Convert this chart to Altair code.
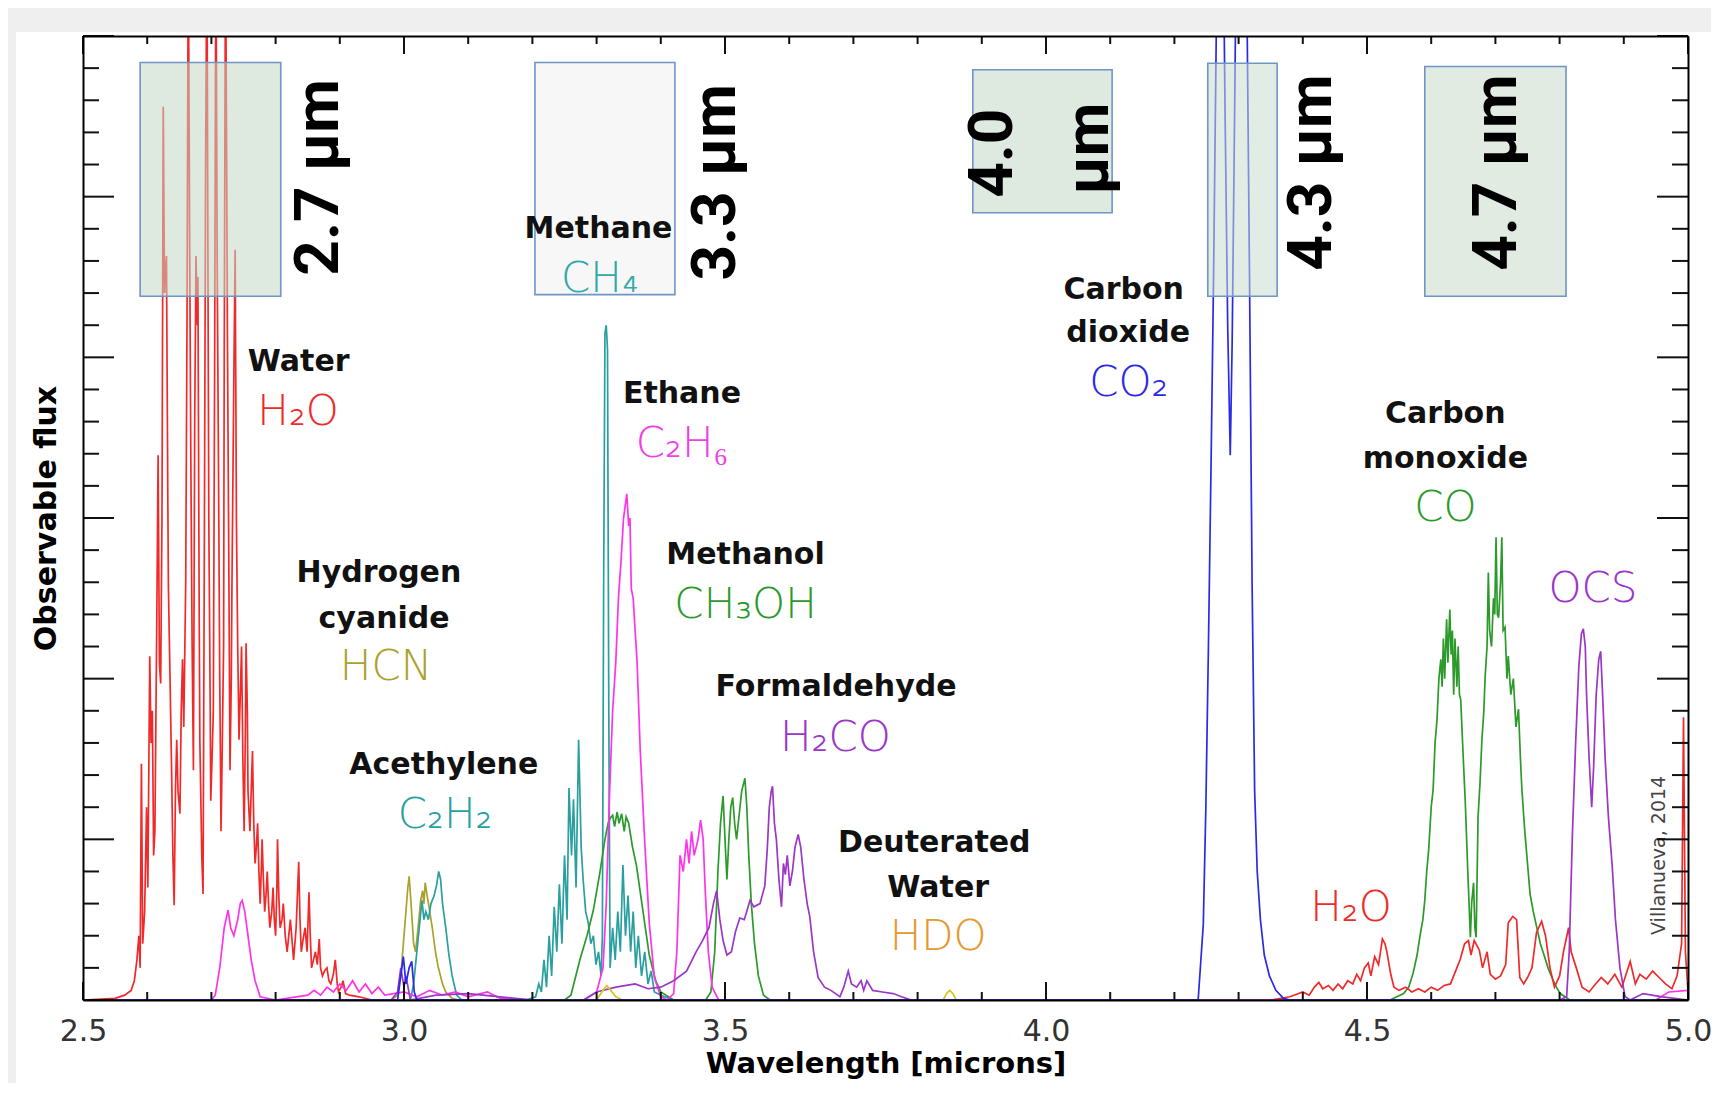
import altair as alt
import pandas as pd

W, H = 1605, 964

# ---------------- spectra: wavelength [micron] / observable flux ----------------
H2O_A_X = [2.500, 2.550, 2.565, 2.575, 2.580, 2.584, 2.587, 2.589, 2.591, 2.593, 2.596, 2.599, 2.601, 2.604,
           2.606, 2.608, 2.610, 2.612, 2.615, 2.617, 2.619, 2.621, 2.623, 2.625, 2.627, 2.628, 2.630, 2.632,
           2.633, 2.636, 2.638, 2.640, 2.642, 2.644, 2.646, 2.648, 2.651, 2.653, 2.655, 2.657, 2.660, 2.662,
           2.664, 2.666, 2.668, 2.670, 2.672, 2.674, 2.676, 2.678, 2.679, 2.681, 2.682, 2.685, 2.687, 2.689,
           2.691, 2.693, 2.695, 2.696, 2.698, 2.699, 2.701, 2.703, 2.705, 2.707, 2.709, 2.711, 2.713, 2.715,
           2.717, 2.719, 2.720, 2.722, 2.724, 2.725, 2.727, 2.729, 2.731, 2.732, 2.735, 2.737, 2.739, 2.741,
           2.743, 2.745, 2.747, 2.749, 2.751, 2.753, 2.754, 2.756, 2.757, 2.760, 2.762, 2.764, 2.766, 2.768,
           2.770, 2.772, 2.774, 2.776, 2.778, 2.779, 2.781, 2.783, 2.785, 2.787, 2.789, 2.791, 2.794, 2.796,
           2.798, 2.800, 2.802, 2.803, 2.805, 2.807, 2.810, 2.812, 2.815, 2.818, 2.820, 2.823, 2.826, 2.828,
           2.832, 2.836, 2.838, 2.840, 2.843, 2.846, 2.849, 2.852, 2.854, 2.856, 2.859, 2.862, 2.865, 2.868,
           2.870, 2.873, 2.876, 2.880, 2.883, 2.886, 2.890, 2.893, 2.896, 2.898, 2.902, 2.905, 2.909, 2.915,
           2.930, 2.950, 4.000]
H2O_A_Y = [0.00, 0.01, 0.03, 0.06, 0.12, 0.25, 0.40, 0.20, 1.47, 0.35, 0.55, 1.20, 0.70, 2.14,
           1.60, 1.80, 0.90, 1.05, 2.40, 3.39, 2.10, 1.97, 3.00, 5.56, 4.40, 4.50, 4.63, 3.20,
           2.58, 1.90, 1.43, 0.90, 0.59, 1.30, 1.62, 1.30, 1.16, 1.80, 2.12, 1.70, 2.60, 4.20,
           6.60, 4.80, 3.35, 2.20, 1.43, 3.60, 4.63, 4.20, 4.50, 2.40, 1.62, 0.90, 0.66, 2.80,
           5.20, 6.60, 4.10, 2.97, 1.90, 1.24, 1.50, 1.80, 3.90, 6.60, 4.60, 3.35, 2.00, 1.05,
           1.60, 2.20, 4.00, 6.60, 5.00, 4.12, 2.80, 1.43, 2.00, 2.58, 3.90, 4.67, 2.97, 2.20,
           1.62, 1.90, 2.20, 1.50, 1.05, 1.70, 2.22, 1.80, 1.30, 1.05, 1.30, 1.55, 1.10, 0.85,
           0.95, 1.10, 0.80, 0.60, 0.85, 1.00, 0.75, 0.55, 0.65, 0.80, 0.60, 0.45, 0.55, 0.70,
           0.50, 0.40, 0.70, 1.00, 0.65, 0.45, 0.50, 0.60, 0.40, 0.30, 0.38, 0.50, 0.35, 0.25,
           0.45, 0.86, 0.50, 0.30, 0.38, 0.45, 0.30, 0.67, 0.40, 0.20, 0.25, 0.30, 0.22, 0.38,
           0.20, 0.15, 0.18, 0.20, 0.12, 0.10, 0.16, 0.25, 0.10, 0.05, 0.08, 0.12, 0.04, 0.03,
           0.02, 0.00, 0.00]

H2O_B_X = [4.000, 4.350, 4.380, 4.400, 4.410, 4.418, 4.425, 4.431, 4.440, 4.447, 4.455, 4.462, 4.470,
           4.478, 4.484, 4.490, 4.496, 4.502, 4.506, 4.512, 4.518, 4.524, 4.528, 4.531, 4.537, 4.542,
           4.550, 4.560, 4.570, 4.580, 4.590, 4.600, 4.610, 4.620, 4.630, 4.640, 4.645, 4.652, 4.658,
           4.662, 4.667, 4.675, 4.680, 4.687, 4.692, 4.700, 4.708, 4.716, 4.720, 4.727, 4.733, 4.738,
           4.744, 4.750, 4.757, 4.764, 4.772, 4.778, 4.785, 4.792, 4.800, 4.806, 4.814, 4.818, 4.826,
           4.835, 4.846, 4.856, 4.865, 4.875, 4.886, 4.897, 4.910, 4.918, 4.925, 4.935, 4.945, 4.955,
           4.965, 4.975, 4.983, 4.990, 4.993, 4.996, 5.000]
H2O_B_Y = [0.00, 0.00, 0.02, 0.05, 0.03, 0.08, 0.11, 0.07, 0.09, 0.06, 0.10, 0.07, 0.12,
           0.10, 0.16, 0.12, 0.20, 0.23, 0.15, 0.27, 0.22, 0.38, 0.35, 0.30, 0.16, 0.08,
           0.06, 0.08, 0.05, 0.07, 0.05, 0.08, 0.06, 0.09, 0.10, 0.20, 0.25, 0.35, 0.37,
           0.28, 0.37, 0.31, 0.20, 0.30, 0.16, 0.13, 0.15, 0.22, 0.48, 0.52, 0.50, 0.14,
           0.10, 0.14, 0.20, 0.42, 0.49, 0.40, 0.20, 0.08, 0.15, 0.30, 0.45, 0.30, 0.20,
           0.08, 0.05, 0.10, 0.14, 0.10, 0.16, 0.08, 0.24, 0.10, 0.16, 0.13, 0.18, 0.14,
           0.10, 0.07, 0.15, 0.35, 1.76, 0.30, 0.05]

HCN_X = [2.500, 2.980, 2.990, 2.996, 3.002, 3.006, 3.008, 3.011, 3.015, 3.018, 3.022, 3.026, 3.029,
         3.031, 3.033, 3.036, 3.039, 3.044, 3.049, 3.053, 3.060, 3.065, 3.075, 3.085, 5.000]
HCN_Y = [0.00, 0.00, 0.03, 0.20, 0.50, 0.70, 0.77, 0.60, 0.35, 0.30, 0.45, 0.62, 0.68,
         0.60, 0.73, 0.65, 0.58, 0.45, 0.30, 0.21, 0.10, 0.05, 0.01, 0.00, 0.00]

C2H2_X = [2.500, 3.010, 3.015, 3.020, 3.025, 3.028, 3.031, 3.034, 3.038, 3.042, 3.047, 3.051, 3.054,
          3.057, 3.060, 3.065, 3.070, 3.075, 3.082, 3.090, 5.000]
C2H2_Y = [0.00, 0.00, 0.10, 0.30, 0.50, 0.62, 0.50, 0.55, 0.50, 0.60, 0.65, 0.72, 0.80,
          0.75, 0.60, 0.45, 0.28, 0.15, 0.03, 0.00, 0.00]

CH4_X = [2.500, 3.190, 3.205, 3.210, 3.214, 3.218, 3.222, 3.226, 3.230, 3.234, 3.238, 3.242, 3.246,
         3.250, 3.254, 3.257, 3.261, 3.264, 3.268, 3.272, 3.276, 3.279, 3.283, 3.287, 3.291, 3.295,
         3.299, 3.303, 3.307, 3.309, 3.311, 3.313, 3.315, 3.317, 3.319, 3.321, 3.325, 3.329, 3.333,
         3.337, 3.341, 3.345, 3.349, 3.353, 3.357, 3.361, 3.365, 3.370, 3.375, 3.380, 3.385, 3.390,
         3.400, 3.420, 5.000]
CH4_Y = [0.00, 0.00, 0.02, 0.10, 0.05, 0.25, 0.08, 0.40, 0.15, 0.58, 0.30, 0.72, 0.35,
         0.90, 0.50, 1.32, 0.90, 1.25, 0.70, 1.62, 0.95, 0.75, 0.55, 0.48, 0.35, 0.40,
         0.22, 0.30, 0.15, 0.40, 2.60, 4.15, 4.20, 4.05, 1.80, 0.20, 0.45, 0.25, 0.55,
         0.30, 0.84, 0.40, 0.65, 0.30, 0.55, 0.20, 0.40, 0.15, 0.30, 0.10, 0.18, 0.05,
         0.03, 0.00, 0.00]

CH3OH_X = [2.500, 3.250, 3.260, 3.274, 3.285, 3.295, 3.305, 3.313, 3.318, 3.321, 3.325, 3.328, 3.332,
           3.335, 3.339, 3.343, 3.346, 3.350, 3.356, 3.362, 3.372, 3.382, 3.392, 3.400, 3.420, 3.470,
           3.478, 3.484, 3.489, 3.493, 3.497, 3.500, 3.503, 3.506, 3.509, 3.512, 3.515, 3.518, 3.522,
           3.526, 3.531, 3.534, 3.537, 3.541, 3.546, 3.552, 3.560, 3.570, 5.000]
CH3OH_Y = [0.00, 0.00, 0.03, 0.25, 0.40, 0.56, 0.79, 1.00, 1.10, 1.13, 1.15, 1.08, 1.17,
           1.10, 1.16, 1.05, 1.14, 1.10, 0.95, 0.84, 0.56, 0.28, 0.12, 0.05, 0.00, 0.00,
           0.05, 0.30, 0.80, 1.10, 1.27, 1.00, 0.75, 1.00, 1.20, 1.26, 1.10, 1.00, 1.15,
           1.30, 1.38, 1.20, 0.90, 0.60, 0.35, 0.15, 0.03, 0.00, 0.00]

C2H6_X = [2.500, 2.700, 2.706, 2.713, 2.720, 2.726, 2.730, 2.735, 2.741, 2.745, 2.748, 2.752, 2.757,
          2.762, 2.768, 2.776, 2.800, 2.850, 2.860, 2.870, 2.880, 2.890, 2.900, 2.910, 2.920, 2.930,
          2.940, 2.950, 2.960, 2.970, 3.000, 3.020, 3.040, 3.060, 3.080, 3.100, 3.130, 3.150, 3.200,
          3.280, 3.300, 3.310, 3.315, 3.320, 3.325, 3.330, 3.334, 3.338, 3.342, 3.345, 3.347, 3.350,
          3.352, 3.354, 3.357, 3.360, 3.363, 3.368, 3.375, 3.382, 3.390, 3.400, 3.410, 3.420, 3.425,
          3.430, 3.435, 3.440, 3.444, 3.448, 3.452, 3.458, 3.462, 3.466, 3.469, 3.474, 3.480, 3.490,
          4.950, 4.970, 5.000]
C2H6_Y = [0.00, 0.00, 0.03, 0.20, 0.45, 0.56, 0.45, 0.40, 0.50, 0.60, 0.62, 0.55, 0.40,
          0.25, 0.12, 0.02, 0.00, 0.03, 0.06, 0.03, 0.08, 0.05, 0.10, 0.06, 0.12, 0.05,
          0.10, 0.04, 0.08, 0.03, 0.05, 0.02, 0.06, 0.03, 0.05, 0.02, 0.05, 0.01, 0.00,
          0.00, 0.05, 0.20, 0.60, 1.27, 1.80, 2.11, 2.50, 2.73, 3.00, 3.09, 3.15, 2.95,
          3.00, 2.56, 2.50, 2.30, 2.11, 1.55, 0.98, 0.48, 0.14, 0.02, 0.00, 0.04, 0.30,
          0.90, 0.80, 1.00, 0.85, 1.05, 0.90, 1.00, 1.12, 1.00, 0.70, 0.30, 0.08, 0.00,
          0.00, 0.05, 0.06]

H2CO_X = [2.500, 2.980, 2.990, 2.995, 3.000, 3.003, 3.010, 3.050, 3.100, 3.150, 3.200, 3.280, 3.300,
          3.330, 3.360, 3.380, 3.400, 3.420, 3.440, 3.455, 3.465, 3.475, 3.482, 3.487, 3.492, 3.497,
          3.503, 3.510, 3.516, 3.523, 3.530, 3.539, 3.545, 3.5545, 3.562, 3.566, 3.569, 3.572, 3.574,
          3.577, 3.580, 3.584, 3.588, 3.591, 3.594, 3.597, 3.601, 3.605, 3.609, 3.614, 3.618, 3.623,
          3.628, 3.632, 3.638, 3.645, 3.655, 3.665, 3.679, 3.685, 3.692, 3.697, 3.705, 3.712, 3.716,
          3.721, 3.730, 3.745, 3.762, 3.775, 3.790, 5.000]
H2CO_Y = [0.00, 0.00, 0.05, 0.20, 0.08, 0.15, 0.00, 0.03, 0.04, 0.02, 0.00, 0.00, 0.05,
          0.08, 0.10, 0.07, 0.08, 0.12, 0.18, 0.30, 0.37, 0.45, 0.60, 0.68, 0.50, 0.37,
          0.28, 0.30, 0.42, 0.51, 0.50, 0.62, 0.58, 0.60, 0.71, 0.95, 1.20, 1.30, 1.33,
          1.10, 1.00, 0.75, 0.58, 0.85, 0.78, 0.90, 0.71, 0.80, 0.95, 1.03, 0.95, 0.75,
          0.60, 0.52, 0.30, 0.14, 0.08, 0.06, 0.02, 0.08, 0.18, 0.10, 0.08, 0.12, 0.06,
          0.12, 0.06, 0.05, 0.04, 0.02, 0.00, 0.00]

HDO_X = [2.500, 3.300, 3.310, 3.316, 3.322, 3.330, 3.340, 3.840, 3.845, 3.850, 3.855, 3.860, 5.000]
HDO_Y = [0.00, 0.00, 0.06, 0.09, 0.06, 0.02, 0.00, 0.00, 0.04, 0.06, 0.04, 0.00, 0.00]

CO_X = [2.500, 4.536, 4.557, 4.565, 4.572, 4.578, 4.583, 4.587, 4.590, 4.593, 4.596, 4.600, 4.603,
        4.606, 4.609, 4.612, 4.615, 4.617, 4.619, 4.621, 4.624, 4.626, 4.629, 4.631, 4.633, 4.635,
        4.637, 4.640, 4.642, 4.644, 4.646, 4.650, 4.653, 4.657, 4.661, 4.663, 4.666, 4.668, 4.670,
        4.673, 4.676, 4.679, 4.682, 4.684, 4.687, 4.689, 4.691, 4.694, 4.697, 4.699, 4.701, 4.703,
        4.705, 4.708, 4.710, 4.712, 4.715, 4.718, 4.720, 4.724, 4.728, 4.732, 4.736, 4.739, 4.741,
        4.744, 4.746, 4.750, 4.754, 4.759, 4.764, 4.770, 4.775, 4.782, 4.788, 4.795, 4.801, 4.816,
        5.000]
CO_Y = [0.00, 0.00, 0.04, 0.08, 0.17, 0.28, 0.41, 0.50, 0.62, 0.80, 0.93, 1.20, 1.31,
        1.60, 1.74, 2.00, 2.12, 1.95, 2.25, 2.00, 2.37, 2.10, 2.43, 2.15, 2.30, 1.90,
        2.25, 1.95, 2.20, 1.90, 1.87, 1.50, 1.24, 0.80, 0.39, 0.60, 0.73, 0.45, 0.39,
        1.14, 1.35, 1.62, 1.80, 2.01, 2.20, 2.66, 2.30, 2.20, 2.50, 2.40, 2.88, 2.40,
        2.38, 2.60, 2.88, 2.30, 2.32, 2.00, 2.14, 1.90, 2.00, 1.70, 1.81, 1.50, 1.33,
        1.15, 1.04, 0.85, 0.66, 0.55, 0.46, 0.35, 0.29, 0.20, 0.14, 0.08, 0.04, 0.00,
        0.00]

OCS_X = [2.500, 4.800, 4.811, 4.815, 4.820, 4.825, 4.830, 4.834, 4.837, 4.840, 4.842, 4.846, 4.850,
         4.853, 4.857, 4.861, 4.864, 4.867, 4.871, 4.876, 4.882, 4.887, 4.894, 4.902, 4.910, 4.930,
         4.960, 5.000]
OCS_Y = [0.00, 0.00, 0.02, 0.30, 1.04, 1.60, 2.08, 2.28, 2.31, 2.20, 1.90, 1.50, 1.20,
         1.45, 1.90, 2.12, 2.17, 1.90, 1.50, 1.14, 0.83, 0.50, 0.20, 0.02, 0.00, 0.04,
         0.02, 0.00]

CO2_X = [2.500, 2.990, 2.995, 2.999, 3.003, 3.008, 3.012, 3.016, 3.020, 4.237, 4.245, 4.249, 4.253,
         4.257, 4.261, 4.266, 4.271, 4.275, 4.279, 4.283, 4.287, 4.290, 4.294, 4.298, 4.302, 4.307,
         4.313, 4.317, 4.321, 4.325, 4.329, 4.334, 4.340, 4.348, 4.358, 4.370, 4.380, 5.000]
CO2_Y = [0.00, 0.00, 0.15, 0.27, 0.10, 0.20, 0.24, 0.05, 0.00, 0.00, 0.47, 1.20, 2.20,
         3.30, 4.50, 6.30, 7.80, 7.00, 5.50, 4.20, 3.39, 4.10, 5.60, 7.20, 7.90, 7.60,
         6.20, 4.50, 2.60, 1.30, 0.80, 0.50, 0.28, 0.15, 0.06, 0.01, 0.00, 0.00]

# drawing order (last on top)
SERIES = [
    ("H2O_A", H2O_A_X, H2O_A_Y), ("HCN", HCN_X, HCN_Y), ("C2H2", C2H2_X, C2H2_Y),
    ("CH4", CH4_X, CH4_Y), ("CH3OH", CH3OH_X, CH3OH_Y), ("C2H6", C2H6_X, C2H6_Y),
    ("H2CO", H2CO_X, H2CO_Y), ("HDO", HDO_X, HDO_Y), ("CO", CO_X, CO_Y),
    ("H2O_B", H2O_B_X, H2O_B_Y), ("OCS", OCS_X, OCS_Y), ("CO2", CO2_X, CO2_Y),
]
LINE_COLOR = {
    "H2O_A": "#f02a2a", "H2O_B": "#f02a2a", "HCN": "#a9a22c", "C2H2": "#2a9fa0",
    "CH4": "#2a9fa0", "CH3OH": "#2b9a2b", "C2H6": "#ff33e8", "H2CO": "#9b36c9",
    "HDO": "#d9c51e", "CO": "#2b9a2b", "OCS": "#9b36c9", "CO2": "#2a2ae6",
}

# ---------------- annotation boxes ----------------
BOX_NAMES = ["2.7", "3.3", "4.0", "4.3", "4.7"]
BOX_X1 = [2.589, 3.204, 3.886, 4.252, 4.590]
BOX_X2 = [2.808, 3.422, 4.103, 4.360, 4.810]
BOX_Y1 = [4.38, 4.39, 4.90, 4.38, 4.38]
BOX_Y2 = [5.835, 5.835, 5.79, 5.83, 5.81]
BOX_FILLS = ["#c3d7c5", "#eff1ef", "#c3d7c5", "#c9dccf", "#c8dac8"]

BOX_TEXT = ["2.7 µm", "3.3 µm", "4.0", "µm", "4.3 µm", "4.7 µm"]
BOX_TEXT_X = [2.868, 3.486, 3.917, 4.067, 4.414, 4.703]
BOX_TEXT_Y = [5.12, 5.09, 5.27, 5.30, 5.15, 5.15]

# ---------------- labels ----------------
NAME_TEXT = ["Water", "Hydrogen", "cyanide", "Acethylene", "Methane", "Ethane", "Methanol",
             "Formaldehyde", "Deuterated", "Water", "Carbon", "dioxide", "Carbon", "monoxide"]
NAME_X = [2.836, 2.961, 2.969, 3.062, 3.303, 3.433, 3.532, 3.673, 3.826, 3.832, 4.121, 4.128, 4.622, 4.622]
NAME_Y = [3.97, 2.66, 2.37, 1.46, 4.80, 3.77, 2.77, 1.95, 0.98, 0.70, 4.42, 4.15, 3.65, 3.37]

FORMULA_TEXT = ["H₂O", "HCN", "C₂H₂", "CH₄", "C₂H₆", "CH₃OH", "H₂CO", "HDO", "CO₂", "H₂O", "CO", "OCS"]
FORMULA_KEY = ["H2O", "HCN", "C2H2", "CH4", "C2H6", "CH3OH", "H2CO", "HDO", "CO2", "H2O", "CO", "OCS"]
FORMULA_X = [2.835, 2.972, 3.064, 3.305, 3.433, 3.532, 3.672, 3.832, 4.129, 4.475, 4.622, 4.852]
FORMULA_Y = [3.66, 2.07, 1.15, 4.49, 3.46, 2.46, 1.63, 0.39, 3.84, 0.57, 3.06, 2.56]
FORMULA_DOMAIN = ["H2O", "HCN", "C2H2", "CH4", "C2H6", "CH3OH", "H2CO", "HDO", "CO2", "CO", "OCS"]
FORMULA_RANGE = ["#ee2b2b", "#a9a22c", "#2a9fa0", "#33a8a8", "#f23ee6", "#2b9a2b", "#9b36c9",
                 "#e5992e", "#2a2ae6", "#2b9a2b", "#9b36c9"]

# ---------------- axes ticks ----------------
X_LABELS = [2.5, 3.0, 3.5, 4.0, 4.5, 5.0]
X_MINOR = [2.6, 2.7, 2.8, 2.9, 3.1, 3.2, 3.3, 3.4, 3.6, 3.7, 3.8, 3.9,
           4.1, 4.2, 4.3, 4.4, 4.6, 4.7, 4.8, 4.9]
Y_MAJOR = [0, 1, 2, 3, 4, 5, 6]
Y_MINOR = [0.2, 0.4, 0.6, 0.8, 1.2, 1.4, 1.6, 1.8, 2.2, 2.4, 2.6, 2.8, 3.2, 3.4, 3.6, 3.8,
           4.2, 4.4, 4.6, 4.8, 5.2, 5.4, 5.6, 5.8]

# ================================================================
xscale = alt.Scale(domain=[2.5, 5.0], nice=False, zero=False)
yscale = alt.Scale(domain=[0, 6], nice=False, zero=False)

FONT = "DejaVu Sans"

bottom_axis = alt.Axis(orient="bottom", values=X_LABELS, format=".1f", ticks=False, grid=False,
                       labelPadding=16, labelFontSize=30, labelFont=FONT, labelColor="#333333",
                       labelFlush=False, title="Wavelength [microns]", titleFont=FONT,
                       titleFontSize=29, titleFontWeight="bold", titleColor="black", titlePadding=3,
                       domainColor="black", domainWidth=2, zindex=1)
left_axis = alt.Axis(orient="left", labels=False, ticks=False, grid=False,
                     title="Observable flux", titleFont=FONT, titleFontSize=30,
                     titleFontWeight="bold", titleColor="black", titlePadding=22,
                     domainColor="black", domainWidth=2, zindex=1)
top_axis = alt.Axis(orient="top", labels=False, ticks=False, grid=False, title=None,
                    domainColor="black", domainWidth=2, zindex=1)
right_axis = alt.Axis(orient="right", labels=False, ticks=False, grid=False, title=None,
                      domainColor="black", domainWidth=2, zindex=1)

layers = []

# white panel behind the figure
layers.append(
    alt.Chart(pd.DataFrame({"a": [0]})).mark_rect(color="white").encode(
        x=alt.value(-67), x2=alt.value(1700), y=alt.value(-4), y2=alt.value(1100))
)

rows = []
for name, xs, ys in SERIES:
    for i, (xv, yv) in enumerate(zip(xs, ys)):
        rows.append({"series": name, "i": i, "wl": xv, "flux": yv})
spec = pd.DataFrame(rows)

for k, (name, _, _) in enumerate(SERIES):
    layers.append(
        alt.Chart(spec).transform_filter(alt.datum.series == name)
        .mark_line(color=LINE_COLOR[name], strokeWidth=1.7, clip=True)
        .encode(x=alt.X("wl:Q", scale=xscale, axis=bottom_axis if k == 0 else None),
                y=alt.Y("flux:Q", scale=yscale, axis=left_axis if k == 0 else None),
                order="i:Q")
    )

boxes = pd.DataFrame({"name": BOX_NAMES, "x1": BOX_X1, "x2": BOX_X2, "y1": BOX_Y1, "y2": BOX_Y2})
layers.append(
    alt.Chart(boxes).mark_rect(stroke="#6f95c6", strokeWidth=1.6, fillOpacity=0.55).encode(
        x=alt.X("x1:Q", scale=xscale, axis=None), x2="x2:Q",
        y=alt.Y("y1:Q", scale=yscale, axis=None), y2="y2:Q",
        fill=alt.Fill("name:N", scale=alt.Scale(domain=BOX_NAMES, range=BOX_FILLS), legend=None))
)

box_txt = pd.DataFrame({"t": BOX_TEXT, "wl": BOX_TEXT_X, "flux": BOX_TEXT_Y})
layers.append(
    alt.Chart(box_txt).mark_text(font="Roboto", fontWeight="bold", fontSize=62, angle=270,
                                 align="center", baseline="middle", color="black").encode(
        x=alt.X("wl:Q", scale=xscale, axis=None), y=alt.Y("flux:Q", scale=yscale, axis=None),
        text="t:N")
)

names = pd.DataFrame({"t": NAME_TEXT, "wl": NAME_X, "flux": NAME_Y})
layers.append(
    alt.Chart(names).mark_text(font=FONT, fontWeight="bold", fontSize=30, align="center",
                               baseline="middle", color="#111111").encode(
        x=alt.X("wl:Q", scale=xscale, axis=None), y=alt.Y("flux:Q", scale=yscale, axis=None),
        text="t:N")
)

formulas = pd.DataFrame({"t": FORMULA_TEXT, "k": FORMULA_KEY, "wl": FORMULA_X, "flux": FORMULA_Y})
layers.append(
    alt.Chart(formulas).mark_text(font=FONT, fontWeight=300, fontSize=42, align="center",
                                  baseline="middle").encode(
        x=alt.X("wl:Q", scale=xscale, axis=None), y=alt.Y("flux:Q", scale=yscale, axis=None),
        text="t:N",
        color=alt.Color("k:N", scale=alt.Scale(domain=FORMULA_DOMAIN, range=FORMULA_RANGE), legend=None))
)

credit = pd.DataFrame({"t": ["Villanueva, 2014"], "wl": [4.955], "flux": [0.90]})
layers.append(
    alt.Chart(credit).mark_text(font=FONT, fontSize=19, angle=270, align="center",
                                baseline="middle", color="#444444").encode(
        x=alt.X("wl:Q", scale=xscale, axis=None), y=alt.Y("flux:Q", scale=yscale, axis=None),
        text="t:N")
)


def xticks(vals, y0, y1):
    return alt.Chart(pd.DataFrame({"t": vals})).mark_rule(color="#111111", strokeWidth=2).encode(
        x=alt.X("t:Q", scale=xscale, axis=None), y=alt.value(y0), y2=alt.value(y1))


def yticks(vals, x0, x1):
    return alt.Chart(pd.DataFrame({"t": vals})).mark_rule(color="#111111", strokeWidth=2).encode(
        y=alt.Y("t:Q", scale=yscale, axis=None), x=alt.value(x0), x2=alt.value(x1))


layers += [
    xticks(X_MINOR, H, H - 8), xticks(X_LABELS, H, H - 18),
    xticks(X_MINOR, 0, 8), xticks(X_LABELS, 0, 18),
    yticks(Y_MINOR, 0, 16), yticks(Y_MAJOR, 0, 31),
    yticks(Y_MINOR, W, W - 16), yticks(Y_MAJOR, W, W - 31),
]

layers.append(
    alt.Chart(pd.DataFrame({"wl": [2.5, 5.0], "flux": [0, 6]})).mark_point(opacity=0).encode(
        x=alt.X("wl:Q", scale=xscale, axis=top_axis),
        y=alt.Y("flux:Q", scale=yscale, axis=right_axis))
)

chart = (
    alt.layer(*layers)
    .resolve_axis(x="independent", y="independent")
    .properties(width=W, height=H,
                padding={"left": 75, "top": 28, "right": 23, "bottom": 83},
                autosize=alt.AutoSizeParams(type="none"),
                background="#efefef")
    .configure_view(stroke=None)
)

chart.save("out.html", embed_options={"renderer": "svg", "actions": False})
